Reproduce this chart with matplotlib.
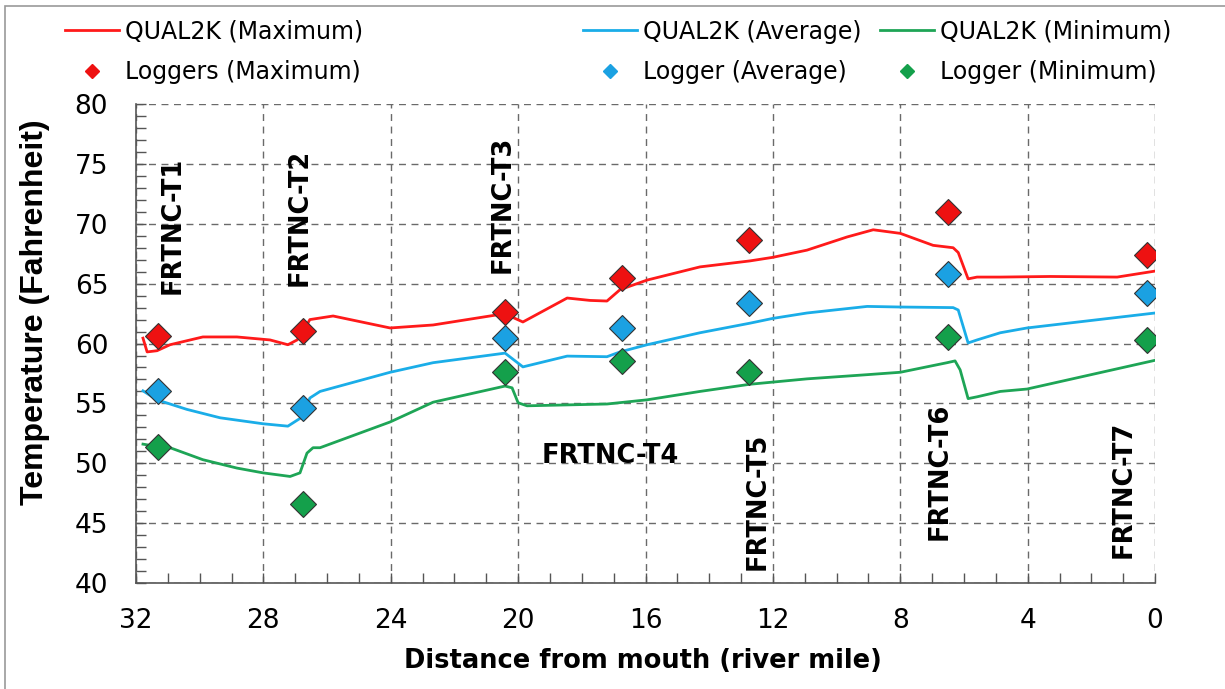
import numpy as np
import matplotlib.pyplot as plt
from matplotlib.lines import Line2D
from matplotlib.ticker import MultipleLocator

# QUAL2K model profiles (river mile, deg F)
q_max_x = [31.78, 31.65, 31.34, 30.93, 29.90, 28.83, 27.79, 27.23, 26.94, 26.69, 26.54, 25.81,
           24.02, 22.67, 20.41, 20.10, 19.85, 18.46, 17.74, 17.21, 16.80, 15.95, 14.29, 12.72,
           12.00, 10.93, 9.67, 8.85, 8.00, 6.97, 6.34, 6.18, 5.87, 5.59, 4.86, 3.29, 1.19, 0.0]
q_max_y = [60.45, 59.3, 59.4, 59.9, 60.55, 60.55, 60.3, 59.9, 60.3, 61.3, 62.0, 62.3,
           61.3, 61.55, 62.5, 62.1, 61.8, 63.8, 63.6, 63.55, 64.5, 65.3, 66.4, 66.9,
           67.2, 67.8, 68.9, 69.5, 69.2, 68.2, 68.0, 67.6, 65.4, 65.55, 65.55, 65.6, 65.55, 66.05]

q_avg_x = [31.78, 31.34, 30.40, 29.36, 28.01, 27.23, 26.76, 26.54, 26.22, 25.81, 24.02, 22.67,
           20.41, 19.85, 19.00, 18.46, 17.21, 16.80, 15.95, 14.29, 12.72, 12.00, 10.93, 9.04,
           8.00, 6.34, 6.18, 5.87, 5.59, 4.86, 4.02, 0.0]
q_avg_y = [56.05, 55.3, 54.5, 53.8, 53.3, 53.1, 53.9, 55.45, 56.0, 56.3, 57.6, 58.4,
           59.2, 58.05, 58.6, 58.95, 58.9, 59.3, 59.9, 60.9, 61.7, 62.1, 62.55, 63.1,
           63.05, 63.0, 62.8, 60.05, 60.3, 60.9, 61.3, 62.55]

q_min_x = [31.78, 31.34, 30.93, 29.90, 28.83, 28.01, 27.16, 26.85, 26.63, 26.44, 26.22, 24.02,
           22.67, 20.41, 20.19, 20.00, 19.72, 17.21, 15.95, 14.29, 12.72, 10.93, 9.04, 8.00,
           6.53, 6.28, 6.12, 5.87, 5.59, 4.86, 4.02, 0.0]
q_min_y = [51.6, 51.4, 51.3, 50.3, 49.6, 49.2, 48.9, 49.2, 50.85, 51.3, 51.3, 53.45,
           55.1, 56.45, 56.3, 55.05, 54.8, 54.95, 55.3, 56.0, 56.6, 57.05, 57.4, 57.6,
           58.4, 58.55, 57.8, 55.4, 55.55, 56.0, 56.2, 58.6]

# logger observations
logger_x = [31.3, 26.75, 20.4, 16.75, 12.75, 6.5, 0.25]
logger_max = [60.6, 61.05, 62.6, 65.5, 68.65, 71.0, 67.4]
logger_avg = [56.05, 54.6, 60.5, 61.3, 63.4, 65.8, 64.2]
logger_min = [51.4, 46.6, 57.6, 58.5, 57.6, 60.55, 60.3]

# site labels
site_labels = ["FRTNC-T1", "FRTNC-T2", "FRTNC-T3", "FRTNC-T4", "FRTNC-T5", "FRTNC-T6", "FRTNC-T7"]
site_x = [30.84, 26.85, 20.48, 17.12, 12.47, 6.76, 0.98]
site_y = [69.9, 70.5, 71.65, 50.6, 46.85, 49.3, 47.8]
site_rot = [90, 90, 90, 0, 90, 90, 90]

red_line, blue_line, green_line = "#FF1A1A", "#1AADE8", "#1EA556"
red_pt, blue_pt, green_pt = "#EE1111", "#1BA1E2", "#14A04B"

fig = plt.figure(figsize=(12.25, 6.89), dpi=100)
ax = fig.add_axes([0.111, 0.1538, 0.8319, 0.6952])

ax.plot(q_max_x, q_max_y, color=red_line, lw=2.0, zorder=3)
ax.plot(q_avg_x, q_avg_y, color=blue_line, lw=2.0, zorder=3)
ax.plot(q_min_x, q_min_y, color=green_line, lw=2.0, zorder=3)

mk = dict(marker="D", ls="none", ms=13, mec="#333333", mew=0.8, zorder=4)
ax.plot(logger_x, logger_max, mfc=red_pt, **mk)
ax.plot(logger_x, logger_avg, mfc=blue_pt, **mk)
ax.plot(logger_x, logger_min, mfc=green_pt, **mk)

for t, x, y, r in zip(site_labels, site_x, site_y, site_rot):
    ax.text(x, y, t, rotation=r, ha="center", va="center", fontsize=18.5,
            fontweight="bold", zorder=5)

ax.set_xlim(32, 0)
ax.set_ylim(40, 80)
ax.xaxis.set_major_locator(MultipleLocator(4))
ax.xaxis.set_minor_locator(MultipleLocator(1))
ax.yaxis.set_major_locator(MultipleLocator(5))
ax.yaxis.set_minor_locator(MultipleLocator(1))
ax.tick_params(which="both", direction="in", length=7, width=1, color="#555555",
               labelsize=19)
ax.tick_params(axis="x", pad=18)
ax.tick_params(axis="y", pad=20)
ax.grid(True, which="major", color="#6a6a6a", ls=(0, (5, 4)), lw=1.0)
ax.set_axisbelow(True)
for s in ["top", "right"]:
    ax.spines[s].set_visible(False)
for s in ["left", "bottom"]:
    ax.spines[s].set_color("#555555")
    ax.spines[s].set_linewidth(1.2)

ax.set_xlabel("Distance from mouth (river mile)", fontsize=18.5, fontweight="bold")
ax.xaxis.set_label_coords(0.497, -0.135)
ax.xaxis.label.set_va("top")
ax.set_ylabel("Temperature (Fahrenheit)", fontsize=23, fontweight="bold",
              family="Liberation Sans")
ax.yaxis.set_label_coords(-0.084, 0.566)

# legend in three columns laid out like the original
cols = [(red_line, red_pt, "QUAL2K (Maximum)", "Loggers (Maximum)", 0.053),
        (blue_line, blue_pt, "QUAL2K (Average)", "Logger (Average)", 0.476),
        (green_line, green_pt, "QUAL2K (Minimum)", "Logger (Minimum)", 0.718)]
for lc, pc, l1, l2, bx in cols:
    h = [Line2D([], [], color=lc, lw=2.0),
         Line2D([], [], marker="D", ls="none", ms=7, mfc=pc, mec=pc)]
    fig.legend(h, [l1, l2], loc="center left", bbox_to_anchor=(bx, 0.9245),
               frameon=False, fontsize=17, handlelength=2.3, handletextpad=0.25,
               labelspacing=0.7, borderpad=0, borderaxespad=0)

# thin frame around the picture
fig.add_artist(plt.Rectangle((5 / 1225, -0.1), 1.2, 1.1 - 6 / 689,
                             transform=fig.transFigure, fill=False,
                             ec="#999999", lw=1.2))

fig.savefig("out.png", dpi=100)
